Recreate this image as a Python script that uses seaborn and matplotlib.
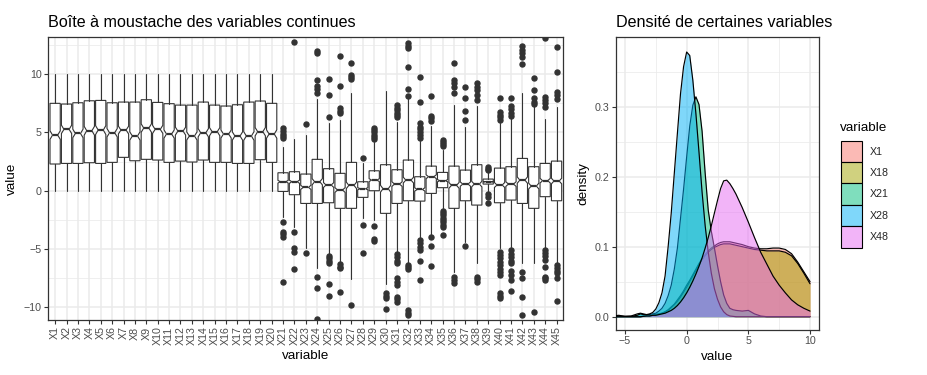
import numpy as np
import pandas as pd
import matplotlib
matplotlib.use("Agg")
import matplotlib.pyplot as plt
from matplotlib.patches import Patch
from matplotlib.ticker import FixedLocator
import seaborn as sns

# ---- boxplot data ----
VARIABLES = ["X%d" % i for i in range(1, 46)]

Q1 = [2.29, 2.34, 2.34, 2.40, 2.34, 2.43, 2.86, 2.57, 2.69, 2.63,
      2.43, 2.54, 2.46, 2.63, 2.43, 2.43, 2.34, 2.34, 2.66, 2.43,
      -0.06, -0.34, -1.09, -1.09, -1.03, -1.51, -1.51, -0.57, 0.00, -1.94,
      -1.09, -0.86, -0.89, -0.23, 0.26, -1.51, -0.86, -1.23, 0.57, -1.03,
      -0.80, -1.09, -1.51, -0.51, -0.86]
MEDIAN = [4.77, 5.26, 4.91, 5.14, 5.20, 4.97, 5.20, 4.69, 5.37, 5.26,
          4.86, 5.11, 4.69, 4.97, 5.06, 4.86, 4.69, 4.69, 5.06, 4.86,
          0.77, 0.77, 0.29, 0.77, 0.49, 0.06, 0.46, 0.17, 0.91, 0.17,
          0.57, 0.91, 0.11, 1.20, 0.86, 0.46, 0.57, 0.57, 0.77, 0.49,
          0.57, 0.91, 0.40, 0.86, 0.83]
Q3 = [7.49, 7.43, 7.54, 7.71, 7.74, 7.54, 7.60, 7.60, 7.80, 7.57,
      7.46, 7.34, 7.34, 7.60, 7.34, 7.26, 7.37, 7.60, 7.69, 7.49,
      1.54, 1.63, 1.43, 2.69, 1.89, 1.49, 2.43, 0.77, 1.71, 2.23,
      1.80, 2.63, 1.20, 2.11, 1.57, 2.11, 1.77, 2.23, 1.00, 1.94,
      2.06, 2.77, 2.06, 2.34, 2.54]
WHISK_LO = [0.01] * 20 + [
    -2.23, -3.10, -4.94, -6.66, -5.43, -6.09, -7.60, -2.37, -2.51, -8.00,
    -5.23, -6.23, -4.09, -3.89, -1.51, -6.94, -4.40, -6.23, -0.09, -4.94,
    -4.86, -6.23, -6.17, -4.94, -6.23]
WHISK_HI = [9.99] * 20 + [
    3.77, 4.43, 4.77, 7.83, 5.77, 6.06, 8.40, 2.34, 4.20, 8.54,
    5.90, 7.83, 4.30, 5.54, 3.50, 7.34, 5.49, 7.26, 1.63, 5.77,
    6.20, 8.34, 7.30, 6.11, 7.20]
OUTLIERS = [[]] * 20 + [
    [5.34, 5.10, 4.90, 4.70, 4.55, -2.66, -3.51, -3.70, -3.94, -7.80],
    [12.77, -3.57, -4.94, -5.23, -6.74],
    [5.71, -5.37],
    [11.95, 11.80, 9.49, 8.97, 8.70, 8.40, -7.37, -8.37, -11.03],
    [9.57, 8.20, 6.34, -5.60, -5.80, -6.00, -6.20, -8.00, -9.00],
    [11.54, 8.97, 7.06, 6.85, 6.69, -6.30, -6.50, -6.66, -8.69],
    [10.97, 9.90, 9.75, 9.57, -9.80],
    [2.83, -2.94, -5.37],
    [5.40, 5.20, 5.00, 4.80, 4.60, 4.40, -3.03, -4.10, -4.30],
    [-8.80, -9.00, -9.20, -10.17],
    [7.34, 7.10, 6.90, 6.70, 6.50, 6.30, -5.40, -5.70, -6.00, -6.23,
     -7.50, -7.80, -8.10, -9.10, -9.30, -9.50],
    [12.63, 12.40, 12.20, 10.57, 8.69, 8.10, -6.37, -6.55, -6.74,
     -10.20, -10.45, -10.66],
    [9.71, 7.63, 5.77, 5.50, 5.25, 5.00, 4.75, 4.50, -4.25, -4.50, -4.80,
     -5.09, -6.00, -7.66],
    [8.11, 6.40, 6.20, 6.00, -4.00, -4.74, -6.46],
    [4.34, 4.15, 4.00, 3.80, -1.70, -1.90, -2.10, -2.30, -2.50, -2.70,
     -2.90, -3.09, -3.83],
    [10.91, 9.50, 9.20, 8.90, 8.40, -7.40, -7.65, -7.90],
    [8.91, 7.91, 6.83, 6.06, -4.74],
    [9.20, 8.90, 8.60, 8.20, 7.77, -7.43, -7.60, -7.80],
    [2.06, 1.90, 1.77, -0.25, -0.50, -1.09],
    [7.91, 6.77, 6.50, 6.30, 6.06, -5.23, -5.50, -5.80, -6.10, -6.40,
     -6.70, -7.00, -7.23, -8.80, -9.00, -9.20],
    [7.91, 7.26, 7.00, 6.70, 6.40, -5.09, -5.40, -5.70, -6.00, -6.23,
     -6.86, -7.20, -7.66, -8.57],
    [12.40, 12.10, 11.80, 11.43, 10.86, -6.94, -7.51, -9.09, -10.69],
    [9.63, 8.63, 7.91, 7.60, 7.40, -10.37],
    [13.06, 8.06, 7.80, 7.50, 7.20, -5.09, -5.35, -5.60, -5.94, -6.57,
     -7.37, -7.50, -7.66],
    [12.29, 10.20, 8.49, 8.20, 7.90, -6.37, -6.60, -6.85, -7.09, -7.51,
     -9.43],
]
N_OBS = 500  # rows per variable, used for the notch size

# ---- density curves ----
DENS_X = [-6, -5.5, -5, -4.5,
          -4, -3.75, -3.5, -3.25, -3, -2.75, -2.5, -2.25, -2, -1.75, -1.5,
          -1.25, -1, -0.75, -0.5, -0.25, 0, 0.25, 0.5, 0.75, 1, 1.25, 1.5,
          1.75, 2, 2.25, 2.5, 2.75, 3, 3.25, 3.5, 3.75, 4,
          4.5, 5, 5.5, 6, 6.5, 7, 7.5, 8, 8.5, 9, 9.5, 10]
DENS_X1 = [0, 0, 0, 0,
           0, 0, 0.0005, 0.001, 0.001, 0.002, 0.003, 0.004, 0.005, 0.007,
           0.010, 0.014, 0.018, 0.024, 0.030, 0.037, 0.045, 0.052, 0.060,
           0.068, 0.076, 0.083, 0.089, 0.094, 0.098, 0.101, 0.104, 0.106,
           0.107, 0.107, 0.107, 0.106, 0.105,
           0.103, 0.100, 0.098, 0.097, 0.097, 0.098, 0.098, 0.096, 0.090,
           0.078, 0.064, 0.050]
DENS_X18 = [0, 0, 0, 0,
            0, 0, 0.0005, 0.001, 0.001, 0.002, 0.003, 0.004, 0.005, 0.007,
            0.009, 0.013, 0.017, 0.022, 0.028, 0.035, 0.042, 0.050, 0.058,
            0.066, 0.074, 0.081, 0.087, 0.092, 0.096, 0.099, 0.101, 0.103,
            0.104, 0.104, 0.104, 0.103, 0.102,
            0.100, 0.098, 0.096, 0.095, 0.094, 0.094, 0.094, 0.092, 0.087,
            0.076, 0.062, 0.047]
DENS_X21 = [0.001, 0.001, 0.0005, 0.001,
            0.004, 0.005, 0.004, 0.003, 0.003, 0.004, 0.005, 0.008, 0.012,
            0.019, 0.030, 0.045, 0.068, 0.098, 0.140, 0.182, 0.228, 0.272,
            0.302, 0.314, 0.303, 0.265, 0.205, 0.152, 0.122, 0.098, 0.073,
            0.050, 0.031, 0.019, 0.012, 0.010, 0.009,
            0.008, 0.009, 0.004, 0.001, 0, 0, 0, 0, 0, 0, 0, 0]
DENS_X28 = [0.001, 0.002, 0.0005, 0.0005,
            0.002, 0.004, 0.003, 0.003, 0.004, 0.006, 0.011, 0.020, 0.034,
            0.058, 0.100, 0.148, 0.205, 0.262, 0.318, 0.357, 0.378, 0.373,
            0.338, 0.290, 0.235, 0.178, 0.130, 0.092, 0.062, 0.040, 0.025,
            0.014, 0.007, 0.003, 0.001, 0.0005, 0,
            0, 0, 0, 0, 0, 0, 0, 0, 0, 0, 0, 0]
DENS_X48 = [0, 0, 0, 0,
            0, 0, 0.0005, 0.001, 0.001, 0.002, 0.002, 0.003, 0.004, 0.005,
            0.007, 0.009, 0.012, 0.016, 0.021, 0.027, 0.034, 0.042, 0.051,
            0.061, 0.072, 0.084, 0.098, 0.113, 0.130, 0.148, 0.166, 0.183,
            0.194, 0.195, 0.190, 0.183, 0.175,
            0.156, 0.135, 0.113, 0.092, 0.075, 0.058, 0.045, 0.034, 0.024,
            0.017, 0.012, 0.008]
DENS_GROUPS = ["X1", "X18", "X21", "X28", "X48"]
DENS_COLORS = ["#F8766D", "#A3A500", "#00BF7D", "#00B0F6", "#E76BF3"]

dens = pd.DataFrame({
    "value": DENS_X * 5,
    "density": DENS_X1 + DENS_X18 + DENS_X21 + DENS_X28 + DENS_X48,
    "variable": np.repeat(DENS_GROUPS, len(DENS_X)),
})

# ---- style ----
sns.set_theme(style="white")
plt.rcParams["font.family"] = ["Liberation Sans", "DejaVu Sans"]
GRID = "#ebebeb"
DARK = "#333333"
TICKTXT = "#4d4d4d"

W, H = 928, 375
fig = plt.figure(figsize=(W / 100, H / 100), dpi=100)
fig.patch.set_facecolor("white")


def place(left, top, right, bottom):
    return fig.add_axes([left / W, 1 - bottom / H, (right - left) / W, (bottom - top) / H])


def style_axes(ax):
    ax.set_facecolor("white")
    ax.set_axisbelow(True)
    for s in ax.spines.values():
        s.set_visible(True)
        s.set_color(DARK)
        s.set_linewidth(0.9)
    ax.tick_params(which="major", length=2.6, width=0.8, color=DARK,
                   labelcolor=TICKTXT, labelsize=7.7, pad=2,
                   bottom=True, left=True)
    ax.tick_params(which="minor", length=0, bottom=False, left=False)
    ax.grid(which="major", color=GRID, linewidth=1.1)
    ax.grid(which="minor", color=GRID, linewidth=0.55)


# ---- left panel: notched boxplots ----
ax1 = place(48.3, 37.3, 563.4, 320)
style_axes(ax1)

stats = []
for i, name in enumerate(VARIABLES):
    notch = 1.58 * (Q3[i] - Q1[i]) / np.sqrt(N_OBS)
    stats.append(dict(label=name, med=MEDIAN[i], q1=Q1[i], q3=Q3[i],
                      whislo=WHISK_LO[i], whishi=WHISK_HI[i],
                      fliers=np.array(OUTLIERS[i]),
                      cilo=MEDIAN[i] - notch, cihi=MEDIAN[i] + notch))

positions = np.arange(1, len(VARIABLES) + 1)
ax1.bxp(stats, positions=positions, widths=0.9, shownotches=True,
        showcaps=False, patch_artist=True,
        boxprops=dict(facecolor="white", edgecolor=DARK, linewidth=0.8),
        whiskerprops=dict(color=DARK, linewidth=0.8),
        medianprops=dict(color=DARK, linewidth=1.6),
        flierprops=dict(marker="o", markerfacecolor=DARK, markeredgecolor=DARK,
                        markersize=3.6, linestyle="none"))

ax1.set_xlim(0.4, len(VARIABLES) + 0.6)
ax1.set_ylim(-11.08, 13.15)
ax1.xaxis.set_major_locator(FixedLocator(positions))
ax1.set_xticklabels(VARIABLES, rotation=90, ha="center", va="top")
ax1.yaxis.set_major_locator(FixedLocator([-10, -5, 0, 5, 10]))
ax1.yaxis.set_minor_locator(FixedLocator([-7.5, -2.5, 2.5, 7.5, 12.5]))
ax1.set_yticklabels(["\u221210", "\u22125", "0", "5", "10"])
ax1.set_xlabel("variable", fontsize=9.7, color="black", labelpad=3)
ax1.set_ylabel("value", fontsize=9.7, color="black", labelpad=4)

# ---- right panel: densities ----
ax2 = place(615.7, 37.3, 819.3, 330)
style_axes(ax2)

# each group: fill then outline, so later fills tint earlier outlines
for k, (g, col) in enumerate(zip(DENS_GROUPS, DENS_COLORS)):
    sub = dens[dens["variable"] == g]
    ax2.fill_between(sub["value"], sub["density"], 0, color=col, alpha=0.5,
                     linewidth=0, zorder=2 + 2 * k)
    sns.lineplot(data=sub, x="value", y="density", color="black",
                 linewidth=0.85, ax=ax2, zorder=3 + 2 * k)

ax2.set_xlim(-5.75, 10.75)
ax2.set_ylim(-0.019, 0.399)
ax2.xaxis.set_major_locator(FixedLocator([-5, 0, 5, 10]))
ax2.xaxis.set_minor_locator(FixedLocator([-2.5, 2.5, 7.5]))
ax2.set_xticklabels(["\u22125", "0", "5", "10"])
ax2.yaxis.set_major_locator(FixedLocator([0, 0.1, 0.2, 0.3]))
ax2.yaxis.set_minor_locator(FixedLocator([0.05, 0.15, 0.25, 0.35]))
ax2.set_yticklabels(["0.0", "0.1", "0.2", "0.3"])
ax2.set_xlabel("value", fontsize=9.7, color="black", labelpad=3)
ax2.set_ylabel("density", fontsize=9.7, color="black", labelpad=4)

# legend keys: half transparent fill, opaque black edge
handles = [Patch(facecolor=matplotlib.colors.to_rgba(c, 0.5), edgecolor="black",
                 linewidth=0.8) for c in DENS_COLORS]
fig.legend(handles, DENS_GROUPS, loc="upper left",
           bbox_to_anchor=(841 / W, 1 - 140.7 / H), frameon=False,
           fontsize=7.7, handlelength=1.95, handleheight=2.7, labelspacing=0,
           handletextpad=0.75, borderpad=0, borderaxespad=0)
fig.text(840 / W, 1 - 130.7 / H, "variable", fontsize=9.7, ha="left",
         va="baseline", color="black")

# ---- titles ----
fig.text(48.3 / W, 1 - 27 / H, "Bo\u00eete \u00e0 moustache des variables continues",
         fontsize=11.6, ha="left", va="baseline", color="black")
fig.text(615.7 / W, 1 - 27 / H, "Densit\u00e9 de certaines variables",
         fontsize=11.6, ha="left", va="baseline", color="black")

fig.savefig("out.png", dpi=100, facecolor="white")
